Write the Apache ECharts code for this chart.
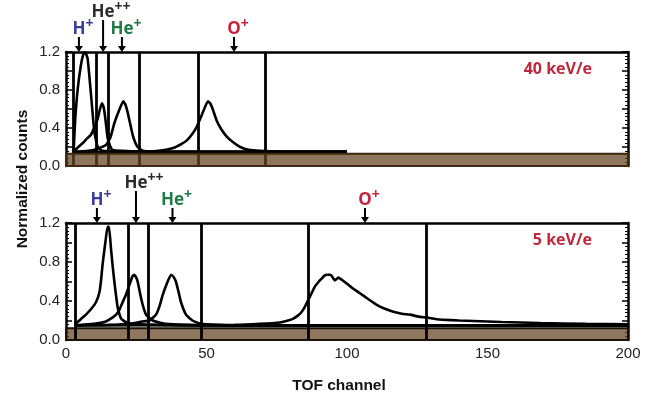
<!DOCTYPE html>
<html>
<head>
<meta charset="utf-8">
<script src="https://cdn.jsdelivr.net/npm/echarts@6/dist/echarts.min.js"></script>
<style>
  html, body { margin: 0; padding: 0; background: #fff; }
  #main { width: 653px; height: 399px; }
</style>
</head>
<body>
<div id="main"></div>
<script>
// TOF spectra at two energy steps, normalized counts vs TOF channel
const xTicks = [0, 50, 100, 150, 200];
const yTicks = [0.0, 0.4, 0.8, 1.2];

const ionNames   = ['H', 'He', 'He', 'O'];
const ionCharges = ['+', '++', '+', '+'];
const ionColors  = ['#3b3b9e', '#2b2b2b', '#1f7a46', '#c8243d'];

// arrow positions (TOF channel) above each panel
const topArrows = [4.6, 13.2, 19.9, 59.8];
const botArrows = [11.0, 24.9, 37.9, 106.4];

// vertical channel markers
const topLines = [2.7, 10.8, 15.1, 26.2, 47.2, 71.0];
const botLines = [3.2, 22.2, 29.1, 48.3, 86.2, 128.1];

// 40 keV/e curves
const topH = [[2.7,0.15],[3.3,0.5],[4.2,0.82],[5.3,1.06],[6.1,1.17],[6.8,1.2],[7.7,1.13],[8.9,0.75],[10.1,0.36],[11.3,0.2],[13,0.16],[20,0.155],[40,0.15],[100,0.15]];
const topHe2 = [[2.7,0.15],[4,0.19],[5.9,0.24],[7.5,0.29],[8.9,0.33],[10,0.4],[11.3,0.5],[12.1,0.6],[12.8,0.66],[13.4,0.62],[14,0.5],[14.8,0.3],[15.7,0.21],[16.6,0.17],[20,0.16],[30,0.15],[100,0.15]];
const topHe1 = [[2.7,0.15],[8,0.16],[11,0.18],[14.2,0.22],[15.8,0.3],[17.2,0.45],[18.8,0.58],[20.4,0.68],[21.1,0.65],[21.9,0.57],[22.8,0.45],[23.7,0.33],[24.6,0.25],[25.5,0.2],[27.3,0.16],[35,0.15],[100,0.15]];
const topO = [[2.7,0.15],[25,0.15],[33,0.16],[38.2,0.19],[41,0.23],[43,0.27],[45,0.34],[46.5,0.41],[48.5,0.55],[50.5,0.68],[51.3,0.66],[52.2,0.6],[53.6,0.48],[55.2,0.39],[57.2,0.31],[59.5,0.25],[62,0.2],[65,0.17],[69,0.16],[80,0.15],[100,0.15]];

// 5 keV/e curves
const botH = [[3.3,0.15],[3.6,0.17],[5.5,0.22],[7.1,0.26],[9,0.32],[10.7,0.39],[11.9,0.49],[12.5,0.62],[13,0.77],[14,1.0],[14.8,1.16],[15.3,1.16],[16,0.94],[16.6,0.76],[17.2,0.6],[18.4,0.33],[19.6,0.22],[21.5,0.18],[23.7,0.165],[40,0.15],[200,0.15]];
const botHe2 = [[3.3,0.15],[10,0.165],[14.2,0.19],[16.5,0.23],[17.8,0.26],[19,0.31],[20.2,0.39],[21.4,0.47],[22.5,0.56],[23.6,0.65],[24.3,0.67],[25,0.64],[25.5,0.6],[26.7,0.43],[27.6,0.33],[28.5,0.26],[30.8,0.2],[35.6,0.165],[50,0.15],[200,0.15]];
const botHe1 = [[3.3,0.15],[15,0.155],[23.7,0.17],[27,0.19],[29.7,0.2],[32,0.26],[33.2,0.34],[34.4,0.46],[35.9,0.58],[37.4,0.67],[38.2,0.65],[39.1,0.6],[40,0.5],[40.9,0.39],[42.7,0.26],[45,0.2],[48,0.165],[60,0.15],[200,0.15]];
const botO = [[3.3,0.15],[60,0.155],[69,0.165],[76.2,0.18],[79,0.2],[80.9,0.22],[82.5,0.25],[83.9,0.29],[85,0.34],[86.2,0.41],[87.4,0.48],[88.6,0.55],[90,0.6],[91,0.63],[92,0.66],[92.8,0.67],[93.8,0.67],[94.5,0.66],[95.7,0.61],[96.9,0.64],[98.5,0.61],[99.9,0.58],[102,0.53],[104.6,0.48],[107.5,0.42],[110.6,0.36],[113.5,0.32],[116.5,0.29],[119.5,0.27],[122.4,0.26],[125.5,0.24],[128.4,0.23],[133,0.21],[140,0.2],[145,0.195],[155,0.185],[168.7,0.175],[185,0.165],[200,0.16]];

const chart = echarts.init(document.getElementById('main'));

const arrowShort = 'path://M3,0L5,0L5,9L8,9L4,15L0,9L3,9Z';
const arrowLong = 'path://M3,0L5,0L5,26L8,26L4,32L0,26L3,26Z';

function yAx(grid, pos, labels) {
  return {
    type: 'value', gridIndex: grid, position: pos,
    min: 0, max: 1.2, interval: 0.2,
    axisLine: { show: true, onZero: false, lineStyle: { color: '#000', width: 2.5 } },
    axisTick: { show: true, inside: true, length: 6, lineStyle: { color: '#000', width: 1.5 } },
    minorTick: { show: true, splitNumber: 5, length: 3, lineStyle: { color: '#000', width: 1 } },
    splitLine: { show: false },
    axisLabel: {
      show: labels, margin: 6, color: '#222', fontSize: 15, fontFamily: 'Liberation Sans',
      formatter: v => yTicks.some(t => Math.abs(t - v) < 1e-6) ? v.toFixed(1) : ''
    }
  };
}

function xAx(grid, pos, labels) {
  const top = pos === 'top';
  return {
    type: 'value', gridIndex: grid, position: pos,
    min: xTicks[0], max: xTicks[xTicks.length - 1], interval: 50,
    axisLine: { show: true, onZero: false, lineStyle: top ? { color: '#000', width: 2.5 } : { color: '#2a1c10', width: 1 } },
    axisTick: { show: false },
    splitLine: { show: false },
    axisLabel: { show: labels, margin: 6, color: '#222', fontSize: 15, fontFamily: 'Liberation Sans' }
  };
}

function curve(data, xi, yi, idx, arrowX) {
  const long = ionCharges[idx] === '++';
  return {
    type: 'line', data: data, xAxisIndex: xi, yAxisIndex: yi,
    showSymbol: false, symbol: 'none', smooth: 0.15, z: 3,
    lineStyle: { color: '#000', width: 2.6 },
    markPoint: {
      silent: true,
      symbol: long ? arrowLong : arrowShort,
      symbolSize: long ? [8, 32] : [8, 15],
      symbolOffset: [0, '-50%'],
      itemStyle: { color: '#000' },
      label: { show: false },
      data: [{ coord: [arrowX, 1.2] }]
    }
  };
}

function panelSeries(curves, arrows, lines, xi, yi, band) {
  const list = curves.map((d, i) => curve(d, xi, yi, i, arrows[i]));
  list[0].markLine = {
    silent: true, symbol: ['none', 'none'], z: 5,
    lineStyle: { color: '#000', width: 2.8, type: 'solid' },
    label: { show: false },
    data: lines.map(v => ({ xAxis: v }))
  };
  list[0].markArea = {
    silent: true, z: band.z,
    itemStyle: { color: 'rgba(102,68,34,0.73)', borderColor: band.border, borderWidth: 2 },
    data: [[{ yAxis: 0 }, { yAxis: band.top }]]
  };
  return list;
}

const titles = [
  { type: 'text', x: 592, y: 69, style: { text: '40 keV/e', fill: '#c1273a', font: 'bold 16px "Open Sans"', textAlign: 'right', textVerticalAlign: 'middle' } },
  { type: 'text', x: 592, y: 240, style: { text: '5 keV/e', fill: '#c1273a', font: 'bold 16px "Open Sans"', textAlign: 'right', textVerticalAlign: 'middle' } },
  { type: 'text', x: 23, y: 179, rotation: Math.PI / 2, style: { text: 'Normalized counts', fill: '#111', font: 'bold 15.5px "Liberation Sans"', textAlign: 'center', textVerticalAlign: 'middle' } },
  { type: 'text', x: 339, y: 386, style: { text: 'TOF channel', fill: '#111', font: 'bold 15.5px "Liberation Sans"', textAlign: 'center', textVerticalAlign: 'middle' } }
];

chart.setOption({
  animation: false,
  backgroundColor: '#fff',
  textStyle: { fontFamily: 'Liberation Sans' },
  grid: [
    { left: 66, right: 25, top: 52, height: 114 },
    { left: 66, right: 25, top: 223, height: 117 }
  ],
  xAxis: [xAx(0, 'bottom', false), xAx(0, 'top', false), xAx(1, 'bottom', true), xAx(1, 'top', false)],
  yAxis: [yAx(0, 'left', true), yAx(0, 'right', false), yAx(1, 'left', true), yAx(1, 'right', false)],
  series: [
    ...panelSeries([topH, topHe2, topHe1, topO], topArrows, topLines, 0, 0, { top: 0.13, z: 6, border: '#3e2814' }),
    ...panelSeries([botH, botHe2, botHe1, botO], botArrows, botLines, 2, 2, { top: 0.12, z: 1, border: '#1a1208' })
  ],
  graphic: titles
});

// ion labels above the arrows, placed through the axis scales
const baseFont = 'bold 17px "Open Sans"';
const supFont = 'bold 14px "Open Sans"';
const ctx = document.createElement('canvas').getContext('2d');
ctx.font = baseFont;

function ionTexts(arrows, xi, yi) {
  const out = [];
  arrows.forEach((x, i) => {
    const p = chart.convertToPixel({ xAxisIndex: xi, yAxisIndex: yi }, [x, 1.2]);
    const len = ionCharges[i] === '++' ? 32 : 15;
    const cy = p[1] - len - 7.5;
    const w = ctx.measureText(ionNames[i]).width;
    out.push({ type: 'text', x: p[0], y: cy, style: { text: ionNames[i], fill: ionColors[i], font: baseFont, textAlign: 'center', textVerticalAlign: 'middle' } });
    out.push({ type: 'text', x: p[0] + w / 2, y: cy - 5.5, style: { text: ionCharges[i], fill: ionColors[i], font: supFont, textAlign: 'left', textVerticalAlign: 'middle' } });
  });
  return out;
}

chart.setOption({ graphic: titles.concat(ionTexts(topArrows, 0, 0), ionTexts(botArrows, 2, 2)) });
</script>
</body>
</html>
